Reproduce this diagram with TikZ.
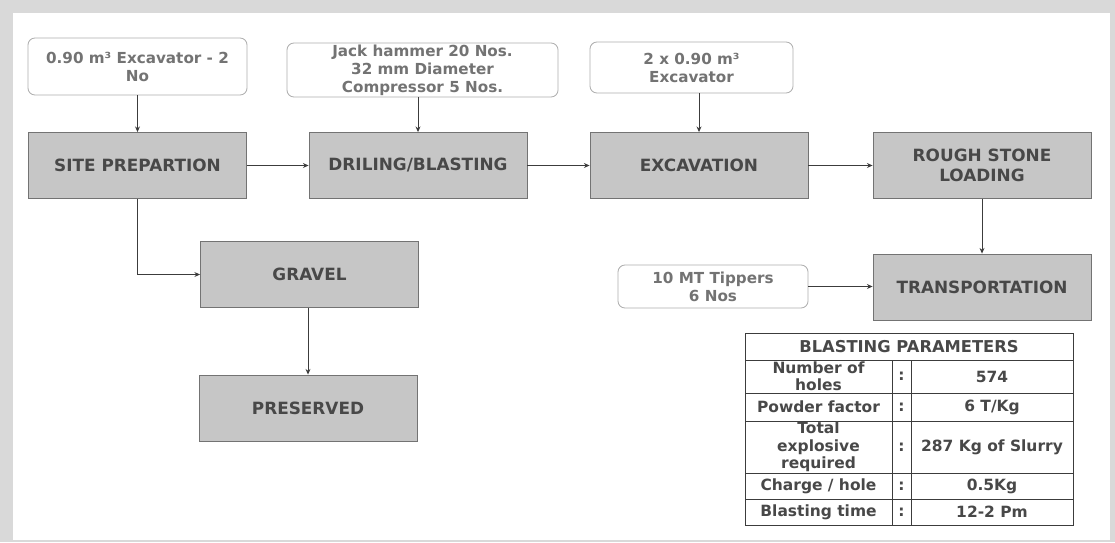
\documentclass[tikz,border=0pt]{standalone}
\usepackage{fontspec}
\setmainfont{DejaVu Sans}
\usepackage{tikz}
\usetikzlibrary{arrows.meta, positioning}
\definecolor{framegray}{RGB}{217,217,217}
\definecolor{boxfill}{RGB}{198,198,198}
\definecolor{boxline}{RGB}{115,115,115}
\definecolor{boxtext}{RGB}{72,72,72}
\definecolor{noteline}{RGB}{175,175,175}
\definecolor{notetext}{RGB}{115,115,115}
\definecolor{mydark}{RGB}{60,60,60}
\tikzset{
  procbox/.style={rectangle, draw=boxline, fill=boxfill, text=boxtext,
    minimum width=5.45cm, minimum height=1.65cm, align=center,
    font=\fontsize{12}{14.5}\selectfont\bfseries, line width=0.6pt},
  notebox/.style={rectangle, draw=noteline, fill=white, text=notetext,
    align=center, rounded corners=5pt, inner sep=1pt,
    font=\fontsize{10.8}{12.8}\selectfont\bfseries, line width=0.6pt},
  arrow/.style={-{Stealth[length=4pt,width=3.5pt]}, line width=0.6pt, color=mydark},
  tblline/.style={line width=0.7pt, color=mydark},
  tbltext/.style={text=boxtext, align=center, inner sep=0pt,
    font=\fontsize{11}{12.4}\selectfont\bfseries}
}

\begin{document}
\begin{tikzpicture}[x=0.025cm, y=-0.025cm]
  \useasboundingbox (0,0) rectangle (1115,542);
  % Frame
  \fill[framegray] (0,0) rectangle (1115,542);
  \fill[white] (13,13) rectangle (1110,540);
  % Process chain
  \node[procbox] (site)   at (137.5,165.5) {SITE PREPARTION};
  \node[procbox] (drill)  at (418,165.5)   {DRILING/BLASTING};
  \node[procbox] (exc)    at (699,165.5)   {EXCAVATION};
  \node[procbox] (rough)  at (982,165.5)   {ROUGH STONE\\LOADING};
  \node[procbox] (gravel) at (309.5,274.5) {GRAVEL};
  \node[procbox] (pres)   at (308,408)     {PRESERVED};
  \node[procbox] (trans)  at (982,287)     {TRANSPORTATION};
  % Equipment notes
  \node[notebox, minimum width=5.475cm, minimum height=1.425cm] (exnote) at (137.5,66.5)
    {0.90 m³ Excavator - 2\\No};
  \node[notebox, minimum width=6.775cm, minimum height=1.35cm] (jack) at (422.5,70)
    {Jack hammer 20 Nos.\\32 mm Diameter\\Compressor 5 Nos.};
  \node[notebox, minimum width=5.075cm, minimum height=1.275cm] (xnote) at (691.5,67.5)
    {2 x 0.90 m³\\Excavator};
  \node[notebox, minimum width=4.75cm, minimum height=1.075cm] (tip) at (713,286.5)
    {10 MT Tippers\\6 Nos};
  % Connectors
  \draw[arrow] (exnote) -- (site);
  \draw[arrow] (drill.north |- jack.south) -- (drill.north);
  \draw[arrow] (exc.north |- xnote.south) -- (exc.north);
  \draw[arrow] (site) -- (drill);
  \draw[arrow] (drill) -- (exc);
  \draw[arrow] (exc) -- (rough);
  \draw[arrow] (rough) -- (trans);
  \draw[arrow] (tip.east) -- (tip.east -| trans.west);
  \draw[arrow] (site.south) |- (gravel.west);
  \draw[arrow] (pres.north |- gravel.south) -- (pres.north);
  % Blasting parameters table
  \draw[tblline] (745,333) rectangle (1073,525);
  \foreach \yy in {360,393,421,473,499}
    \draw[tblline] (745,\yy) -- (1073,\yy);
  \draw[tblline] (892,360) -- (892,525);
  \draw[tblline] (911,360) -- (911,525);
  \node[tbltext, font=\fontsize{11.6}{13}\selectfont\bfseries] (hdr) at (909,346.5) {BLASTING PARAMETERS};
  \node[tbltext] (holes)  at (818.5,376.5) {Number of\\holes};
  \node[tbltext] (powder) at (818.5,407)   {Powder factor};
  \node[tbltext] (total)  at (818.5,447)   {Total\\explosive\\required};
  \node[tbltext] (charge) at (818.5,486)   {Charge / hole};
  \node[tbltext] (btime)  at (818.5,512)   {Blasting time};
  \foreach \yy [count=\i] in {376.5,407,447,486,512}
    \node[tbltext] (colon\i) at (901.5,\yy) {:};
  \node[tbltext] (vholes)  at (992,376.5) {574};
  \node[tbltext] (vpowder) at (992,407)   {6 T/Kg};
  \node[tbltext] (vtotal)  at (992,447)   {287 Kg of Slurry};
  \node[tbltext] (vcharge) at (992,486)   {0.5Kg};
  \node[tbltext] (vbtime)  at (992,512)   {12-2 Pm};
\end{tikzpicture}
\end{document}
